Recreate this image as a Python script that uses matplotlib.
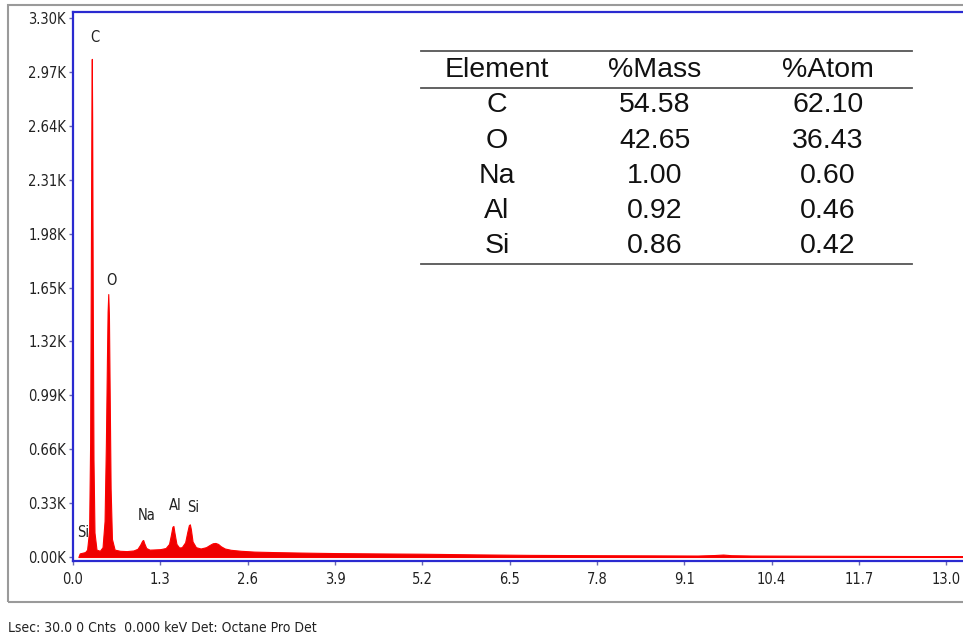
import matplotlib.pyplot as plt
from matplotlib.patches import Rectangle
from matplotlib import font_manager

# spectrum (keV, counts)
energy = [0.08, 0.10, 0.14, 0.18, 0.21, 0.24, 0.255, 0.265, 0.275, 0.28, 0.285, 0.295, 0.305, 0.32, 0.35,
          0.40, 0.44, 0.47, 0.49, 0.505, 0.515, 0.525, 0.535, 0.545, 0.56, 0.58, 0.62,
          0.70, 0.80, 0.90, 0.96, 1.00, 1.03, 1.045, 1.06, 1.09, 1.14,
          1.20, 1.30, 1.38, 1.43, 1.46, 1.48, 1.495, 1.51, 1.54, 1.58,
          1.62, 1.67, 1.70, 1.725, 1.74, 1.755, 1.78, 1.83, 1.90,
          1.98, 2.04, 2.08, 2.12, 2.16, 2.20, 2.26, 2.35, 2.50, 2.70,
          3.00, 3.40, 3.90, 4.50, 5.20, 6.00, 6.80, 7.80, 8.60, 9.30,
          9.55, 9.68, 9.80, 10.10, 10.80, 11.70, 12.50, 13.40]
counts = [0, 22, 26, 30, 45, 160, 700, 1700, 2800, 3050, 2700, 1500, 600, 150, 45,
          38, 60, 220, 700, 1200, 1500, 1610, 1480, 1050, 420, 110, 45,
          38, 36, 40, 50, 75, 100, 104, 85, 55, 45,
          46, 48, 55, 80, 140, 185, 190, 150, 80, 58,
          60, 90, 150, 195, 200, 170, 95, 60, 52,
          60, 75, 84, 86, 80, 66, 52, 44, 38, 33,
          30, 27, 24, 22, 20, 16, 13, 11, 10, 9,
          12, 15, 11, 9, 8, 7, 6, 5]

peak_labels = ["C", "O", "Na", "Al", "Si", "Si"]
label_x = [0.33, 0.57, 1.09, 1.53, 1.79, 0.15]
label_y = [3183, 1690, 257, 318, 306, 147]

table_cols = ["Element", "%Mass", "%Atom"]
elements = ["C", "O", "Na", "Al", "Si"]
mass_pct = ["54.58", "42.65", "1.00", "0.92", "0.86"]
atom_pct = ["62.10", "36.43", "0.60", "0.46", "0.42"]

xticks = [0.0, 1.3, 2.6, 3.9, 5.2, 6.5, 7.8, 9.1, 10.4, 11.7, 13.0]
yticks = [0, 330, 660, 990, 1320, 1650, 1980, 2310, 2640, 2970, 3300]

plt.rcParams['font.family'] = ['DejaVu Sans']
plt.rcParams['font.stretch'] = 'condensed'

fig = plt.figure(figsize=(9.63, 6.4), dpi=100)

# outer gray frame
fig.patches.append(Rectangle((8/963, 38/640), 1.0, 597/640, transform=fig.transFigure,
                             fill=False, edgecolor='#9a9a9a', linewidth=1.5))

ax = fig.add_axes([73/963, 79/640, 900/963, 549/640])
ax.fill_between(energy, 0, counts, color='#ee0000', linewidth=0.8, edgecolor='#ff0000')
ax.set_xlim(0, 13.4)
ax.set_ylim(-24.5, 3337)

for s in ax.spines.values():
    s.set_color('#2a2ad0')
    s.set_linewidth(1.6)

ax.set_xticks(xticks)
ax.set_xticklabels([f"{v:.1f}" for v in xticks])
ax.set_yticks(yticks)
ax.set_yticklabels([f"{v/1000:.2f}K" for v in yticks])
ax.tick_params(length=3, width=1, color='#6a6ab0', labelsize=10.5, pad=2, labelcolor='#222222')
ax.tick_params(axis='x', pad=5)

for lab, x, y in zip(peak_labels, label_x, label_y):
    ax.text(x, y, lab, fontsize=10.5, ha='center', va='center', color='#222222')

# composition table
tx = [497/963, 655/963, 828/963]
x0, x1 = 421/963, 912/963
for ly in [51, 88, 264]:
    fig.add_artist(plt.Line2D([x0, x1], [1 - ly/640] * 2, color='#555555', lw=1.3))
for c, name in zip(tx, table_cols):
    fig.text(c, 1 - 70/640, name, ha='center', va='center', fontsize=20.5,
             family='Liberation Sans', fontstretch='normal', color='#111111')
row_y = [105, 141, 176, 211, 246]
for i, ry in enumerate(row_y):
    for c, val in zip(tx, [elements[i], mass_pct[i], atom_pct[i]]):
        fig.text(c, 1 - ry/640, val, ha='center', va='center', fontsize=20.5,
                 family='Liberation Sans', fontstretch='normal', color='#111111')

fig.text(8/963, 1 - 628/640, "Lsec: 30.0 0 Cnts  0.000 keV Det: Octane Pro Det",
         ha='left', va='center', fontsize=10, color='#222222')

plt.savefig('out.png', dpi=100)
plt.close()
